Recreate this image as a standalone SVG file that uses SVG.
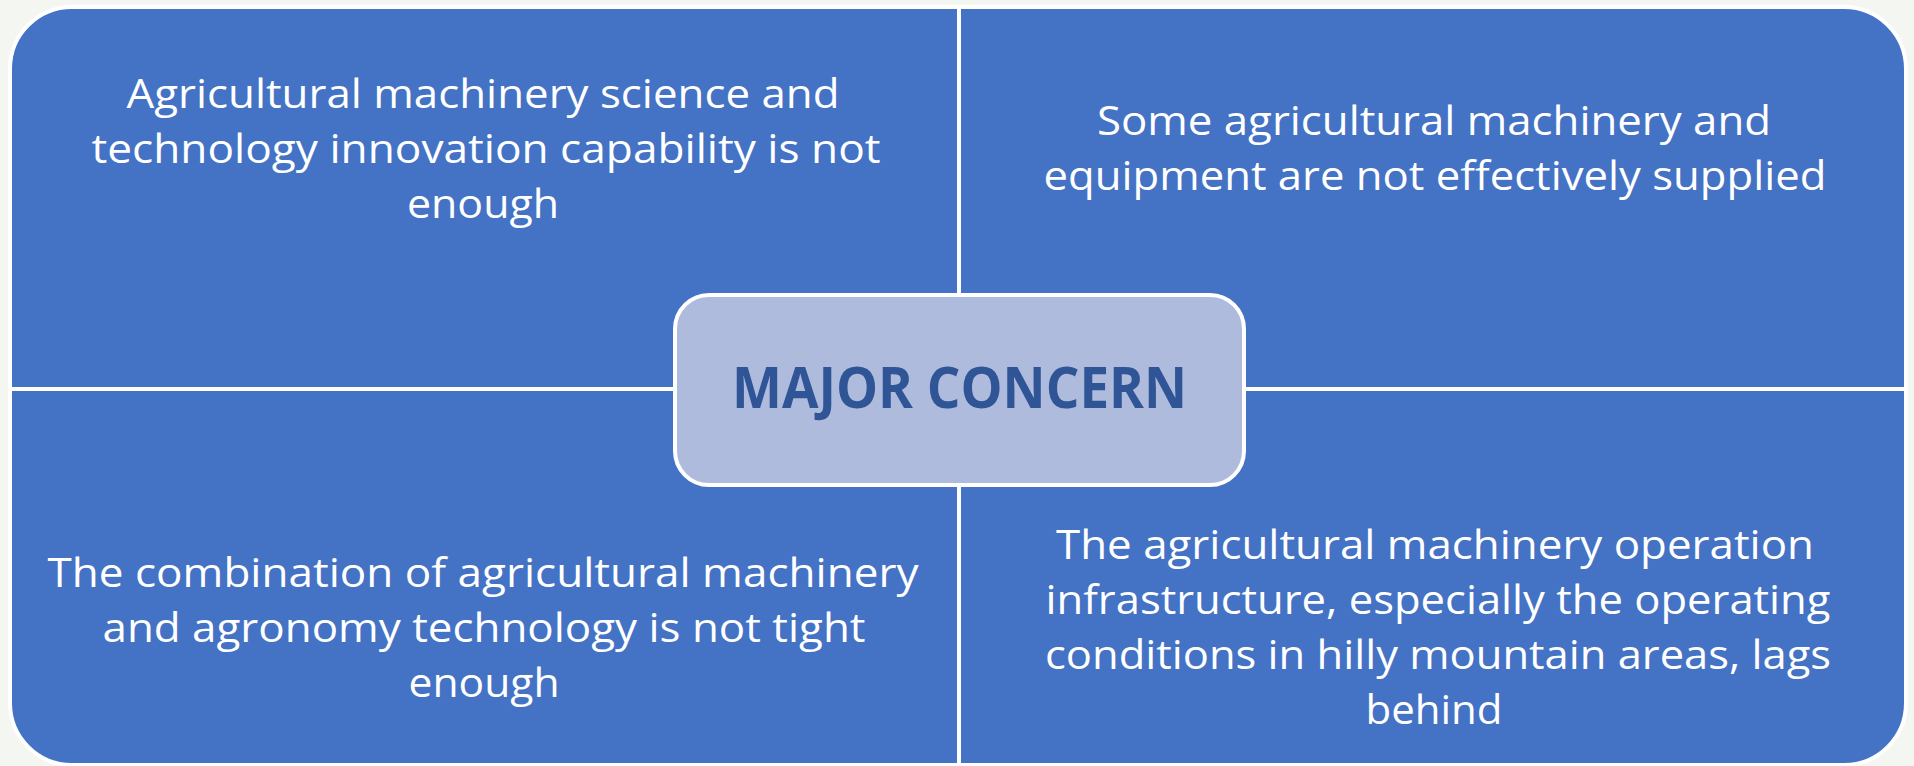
<svg xmlns="http://www.w3.org/2000/svg" width="1914" height="766" viewBox="0 0 1914 766">
<style>
.quad{fill:#4472C4;stroke:#FFFFFF;stroke-width:4;stroke-linejoin:round}
.t{font-family:"Open Sans","Liberation Sans",sans-serif;font-size:41px;fill:#FFFFFF;text-anchor:middle}
.center{fill:#AFBBDD;stroke:#FFFFFF;stroke-width:4}
.ct{font-family:"Open Sans","Liberation Sans",sans-serif;font-size:57px;font-weight:bold;fill:#2F5597;text-anchor:middle}
</style>
<rect x="0" y="0" width="1914" height="766" fill="#F4F6F2"/>
<g id="quad-tl">
<path class="quad" d="M10,389 V69 A62,62 0 0 1 72,7 H959 V389 Z"/>
<text class="t" x="483" y="108" textLength="713" lengthAdjust="spacingAndGlyphs">Agricultural machinery science and</text>
<text class="t" x="486" y="163" textLength="789" lengthAdjust="spacingAndGlyphs">technology innovation capability is not</text>
<text class="t" x="483" y="218" textLength="152" lengthAdjust="spacingAndGlyphs">enough</text>
</g>
<g id="quad-tr">
<path class="quad" d="M959,7 H1844 A62,62 0 0 1 1906,69 V389 H959 Z"/>
<text class="t" x="1434" y="135" textLength="674" lengthAdjust="spacingAndGlyphs">Some agricultural machinery and</text>
<text class="t" x="1435" y="190" textLength="783" lengthAdjust="spacingAndGlyphs">equipment are not effectively supplied</text>
</g>
<g id="quad-bl">
<path class="quad" d="M10,389 H959 V765 H72 A62,62 0 0 1 10,703 Z"/>
<text class="t" x="483" y="587" textLength="871" lengthAdjust="spacingAndGlyphs">The combination of agricultural machinery</text>
<text class="t" x="484" y="642" textLength="763" lengthAdjust="spacingAndGlyphs">and agronomy technology is not tight</text>
<text class="t" x="484" y="697" textLength="151" lengthAdjust="spacingAndGlyphs">enough</text>
</g>
<g id="quad-br">
<path class="quad" d="M959,389 H1906 V703 A62,62 0 0 1 1844,765 H959 Z"/>
<text class="t" x="1435" y="559" textLength="758" lengthAdjust="spacingAndGlyphs">The agricultural machinery operation</text>
<text class="t" x="1438" y="614" textLength="785" lengthAdjust="spacingAndGlyphs">infrastructure, especially the operating</text>
<text class="t" x="1438" y="669" textLength="786" lengthAdjust="spacingAndGlyphs">conditions in hilly mountain areas, lags</text>
<text class="t" x="1434" y="724" textLength="137" lengthAdjust="spacingAndGlyphs">behind</text>
</g>
<g id="connectors"></g>
<g id="major-concern">
<rect class="center" x="675" y="295" width="569" height="190" rx="34" ry="34"/>
<text class="ct" x="959.5" y="408" textLength="455" lengthAdjust="spacingAndGlyphs">MAJOR CONCERN</text>
</g>
</svg>
